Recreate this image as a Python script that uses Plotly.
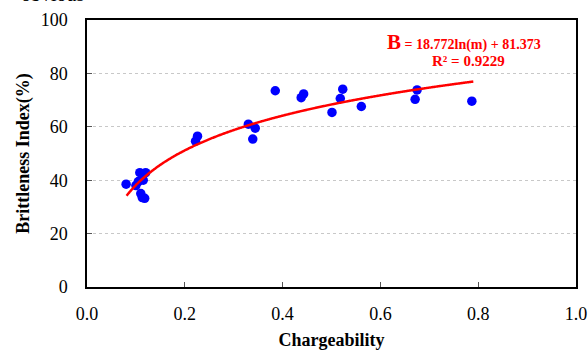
import numpy as np
import plotly.graph_objects as go

# Data
chargeability = [0.080, 0.100, 0.105, 0.108, 0.110, 0.113, 0.115, 0.118, 0.120,
                 0.222, 0.226, 0.330, 0.339, 0.344, 0.385, 0.438, 0.443,
                 0.501, 0.518, 0.523, 0.561, 0.671, 0.675, 0.787]
brittleness = [38.5, 38.0, 39.5, 42.8, 35.0, 33.5, 40.0, 33.2, 42.8,
               54.6, 56.5, 61.0, 55.4, 59.5, 73.5, 70.9, 72.3,
               65.4, 70.6, 74.1, 67.6, 70.3, 73.8, 69.6]
fit_a = 18.772
fit_b = 81.373
fit_range = [0.081, 0.79]

x_ticks = [0.0, 0.2, 0.4, 0.6, 0.8, 1.0]
y_ticks = [0, 20, 40, 60, 80, 100]

xf = np.linspace(fit_range[0], fit_range[1], 300)
yf = fit_a * np.log(xf) + fit_b

ff = "Times New Roman"

fig = go.Figure()
fig.add_trace(go.Scatter(x=chargeability, y=brittleness, mode="markers",
                         marker=dict(color="#0000ff", size=9.5, line=dict(width=0)),
                         showlegend=False))
fig.add_trace(go.Scatter(x=xf, y=yf, mode="lines",
                         line=dict(color="#ff0000", width=2.5, shape="spline"),
                         showlegend=False))

fig.update_layout(
    width=588, height=350,
    margin=dict(l=87, r=12, t=20, b=63),
    paper_bgcolor="white", plot_bgcolor="white",
    font=dict(family=ff, size=18, color="black"),
    xaxis=dict(range=[0, 1.0], tickvals=x_ticks, tickformat=".1f",
               tickfont=dict(family=ff, size=18), automargin=False,
               ticks="inside", ticklen=5, tickcolor="#555555", tickwidth=1,
               showline=True, linecolor="black", linewidth=1.5, mirror=True,
               showgrid=False, zeroline=False,
               title=dict(text="<b>Chargeability</b>", font=dict(family=ff, size=18), standoff=13),
               ticklabelstandoff=10),
    yaxis=dict(range=[0, 100], tickvals=y_ticks,
               tickfont=dict(family=ff, size=18), automargin=False,
               ticks="inside", ticklen=5, tickcolor="#555555", tickwidth=1,
               showline=True, linecolor="black", linewidth=1.5, mirror=True,
               showgrid=True, gridcolor="#c8c8c8", griddash="dot", gridwidth=1,
               zeroline=False,
               title=dict(text="<b>Brittleness Index(%)</b>", font=dict(family=ff, size=18), standoff=6),
               ticklabelstandoff=14),
)

fig.add_annotation(x=0.77, y=0.916, xref="paper", yref="paper", showarrow=False,
                   xanchor="center", yanchor="middle", borderpad=0,
                   text="<b><span style='font-size:21px'>B</span> = 18.772ln(m) + 81.373</b>",
                   font=dict(color="#ff0000", size=14, family=ff))
fig.add_annotation(x=0.781, y=0.848, xref="paper", yref="paper", showarrow=False,
                   xanchor="center", yanchor="middle", borderpad=0,
                   text="<b>R² = 0.9229</b>",
                   font=dict(color="#ff0000", size=15, family=ff))

fig.add_annotation(x=-0.14, y=1.047, xref="paper", yref="paper", showarrow=False,
                   xanchor="left", yanchor="bottom",
                   text="obvious", font=dict(color="black", size=20, family=ff))

fig.write_html("out.html")
